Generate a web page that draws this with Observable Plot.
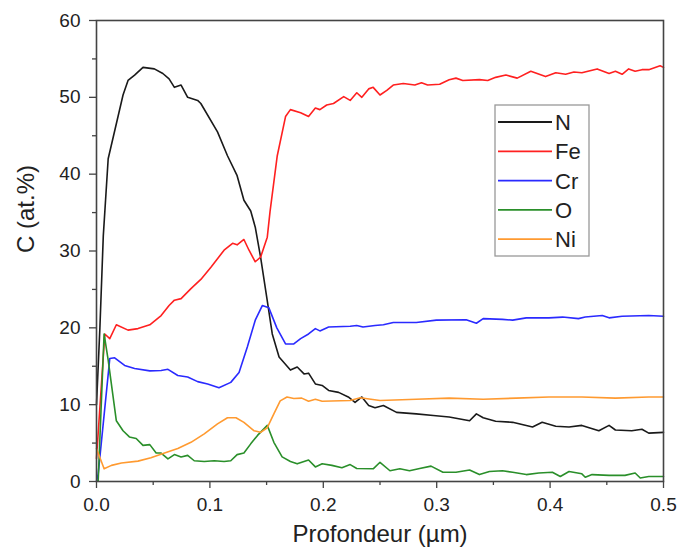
<!DOCTYPE html>
<html>
<head>
<meta charset="utf-8">
<script src="https://cdn.jsdelivr.net/npm/d3@7"></script>
<script src="https://cdn.jsdelivr.net/npm/@observablehq/plot@0.6"></script>
<style>
  body { margin: 0; background: #fff; }
  #chart { position: relative; width: 681px; height: 553px; }
</style>
</head>
<body>
<div id="chart"></div>
<script>
// Depth (µm) and concentration (at.%) per element
const seriesNames = ["N", "Fe", "Cr", "O", "Ni"];
const seriesColors = ["#1a1a1a", "#ff2020", "#2a2aff", "#2a8f2a", "#ff9a30"];

const N = [[0,10],[0.003,20],[0.006,32],[0.0103,42],[0.0234,50.3],[0.0278,52.2],[0.0336,52.9],[0.041,53.9],[0.051,53.7],[0.0585,53.1],[0.064,52.4],[0.0687,51.3],[0.0746,51.6],[0.0804,50.0],[0.0892,49.6],[0.092,49.2],[0.1067,45.5],[0.1155,42.4],[0.124,39.8],[0.130,36.6],[0.136,35.2],[0.140,33.1],[0.1447,29.2],[0.1506,23.5],[0.155,19.2],[0.161,16.2],[0.171,14.5],[0.177,14.9],[0.183,14.0],[0.187,14.1],[0.193,12.7],[0.199,12.5],[0.2047,11.85],[0.2135,11.6],[0.222,11.0],[0.228,10.3],[0.234,11.0],[0.240,9.9],[0.2456,9.6],[0.253,9.9],[0.2646,9.0],[0.282,8.8],[0.297,8.6],[0.311,8.4],[0.329,7.9],[0.335,8.8],[0.341,8.3],[0.352,7.85],[0.367,7.7],[0.3845,7.1],[0.393,7.7],[0.405,7.2],[0.4167,7.1],[0.428,7.3],[0.443,6.6],[0.452,7.3],[0.4576,6.7],[0.472,6.6],[0.481,6.8],[0.487,6.3],[0.5,6.4]];

const Fe = [[0,3],[0.0073,19.2],[0.0117,18.6],[0.0175,20.4],[0.0278,19.7],[0.0366,19.9],[0.047,20.4],[0.057,21.6],[0.064,22.9],[0.0687,23.6],[0.0746,23.8],[0.0833,25.1],[0.092,26.3],[0.1009,27.9],[0.1125,30.1],[0.12,31.0],[0.124,30.8],[0.130,31.5],[0.1345,30.1],[0.140,28.6],[0.1447,29.2],[0.1506,31.8],[0.153,35.1],[0.1594,42.4],[0.1667,47.5],[0.171,48.4],[0.18,48.0],[0.187,47.5],[0.193,48.6],[0.197,48.4],[0.203,49.0],[0.209,49.2],[0.218,50.1],[0.2237,49.6],[0.2295,50.6],[0.234,50.0],[0.240,51.1],[0.244,51.3],[0.25,50.3],[0.256,50.9],[0.2617,51.6],[0.2705,51.8],[0.2807,51.6],[0.2866,51.9],[0.292,51.6],[0.3026,51.7],[0.311,52.3],[0.317,52.5],[0.323,52.2],[0.3377,52.3],[0.345,52.2],[0.352,52.6],[0.361,52.9],[0.371,52.5],[0.383,53.4],[0.396,52.7],[0.405,53.2],[0.4137,53.0],[0.421,53.3],[0.428,53.2],[0.4415,53.7],[0.452,53.1],[0.4576,53.4],[0.4635,53.0],[0.4693,53.7],[0.475,53.4],[0.481,53.6],[0.487,53.6],[0.497,54.1],[0.5,53.9]];

const Cr = [[0,0],[0.0015,1.0],[0.0117,16.0],[0.016,16.1],[0.0248,15.1],[0.0336,14.7],[0.047,14.4],[0.057,14.45],[0.063,14.6],[0.0717,13.8],[0.0804,13.6],[0.0892,13.0],[0.098,12.7],[0.108,12.2],[0.1184,12.9],[0.1257,14.2],[0.133,17.5],[0.140,21.0],[0.1462,22.9],[0.152,22.6],[0.159,20.0],[0.1667,17.9],[0.174,17.9],[0.18,18.6],[0.187,19.2],[0.193,19.9],[0.197,19.6],[0.2047,20.1],[0.2237,20.2],[0.2295,20.3],[0.235,20.1],[0.2456,20.3],[0.253,20.4],[0.2617,20.7],[0.282,20.7],[0.2997,21.0],[0.326,21.05],[0.335,20.6],[0.341,21.2],[0.358,21.1],[0.367,21.0],[0.379,21.3],[0.399,21.3],[0.411,21.4],[0.425,21.2],[0.431,21.4],[0.446,21.6],[0.452,21.3],[0.4635,21.5],[0.487,21.6],[0.5,21.5]];

const O = [[0,0],[0.0015,0.1],[0.0067,19.2],[0.0103,15.8],[0.0175,7.9],[0.0234,6.6],[0.029,5.8],[0.035,5.6],[0.041,4.7],[0.047,4.8],[0.0526,3.7],[0.057,3.7],[0.063,2.95],[0.0687,3.5],[0.0746,3.2],[0.0804,3.4],[0.0862,2.7],[0.095,2.6],[0.1038,2.7],[0.1125,2.6],[0.1184,2.7],[0.124,3.5],[0.130,3.7],[0.136,4.9],[0.142,6.0],[0.1506,7.3],[0.1564,5.1],[0.1637,3.2],[0.171,2.6],[0.177,2.3],[0.187,2.8],[0.193,1.9],[0.199,2.3],[0.2076,2.1],[0.2164,1.8],[0.2237,2.2],[0.2295,1.7],[0.244,1.65],[0.25,2.5],[0.2588,1.4],[0.2675,1.65],[0.276,1.4],[0.285,1.7],[0.295,2.0],[0.3055,1.2],[0.317,1.2],[0.329,1.5],[0.3377,0.9],[0.3465,1.3],[0.358,1.4],[0.367,1.2],[0.379,0.9],[0.39,1.1],[0.402,1.2],[0.409,0.65],[0.4167,1.3],[0.428,1.0],[0.431,0.56],[0.437,0.9],[0.452,0.8],[0.466,0.8],[0.475,1.1],[0.4795,0.45],[0.487,0.65],[0.5,0.65]];

const Ni = [[0,4.3],[0.0067,1.65],[0.0132,2.1],[0.022,2.4],[0.0366,2.65],[0.048,3.1],[0.06,3.7],[0.0717,4.3],[0.0833,5.1],[0.095,6.2],[0.1067,7.5],[0.1155,8.3],[0.123,8.3],[0.130,7.7],[0.139,6.6],[0.1447,6.4],[0.1506,7.0],[0.1564,8.8],[0.162,10.5],[0.168,11.0],[0.174,10.8],[0.181,10.85],[0.187,10.45],[0.193,10.7],[0.199,10.45],[0.2237,10.55],[0.2325,10.9],[0.25,10.55],[0.282,10.7],[0.311,10.85],[0.341,10.7],[0.37,10.85],[0.399,11.0],[0.428,11.0],[0.4576,10.85],[0.487,11.0],[0.5,11.0]];

const xMajor = [0, 0.1, 0.2, 0.3, 0.4, 0.5];
const xMinor = [0.05, 0.15, 0.25, 0.35, 0.45];
const yMajor = [0, 10, 20, 30, 40, 50, 60];
const yMinor = [5, 15, 25, 35, 45, 55];

const allSeries = [N, Fe, Cr, O, Ni];
const rows = allSeries.flatMap((s, i) => s.map(([x, y]) => ({x, y, el: seriesNames[i]})));

const font = "'Liberation Sans', Arial, sans-serif";

const chart = Plot.plot({
  width: 681,
  height: 553,
  marginLeft: 96,
  marginRight: 18,
  marginTop: 20,
  marginBottom: 72,
  style: {fontFamily: font, background: "#fff", color: "#222"},
  x: {domain: [0, 0.5]},
  y: {domain: [0, 60]},
  color: {domain: seriesNames, range: seriesColors},
  marks: [
    Plot.lineY(rows, {x: "x", y: "y", z: "el", stroke: "el", strokeWidth: 1.6}),
    Plot.frame({stroke: "#444", strokeWidth: 1.6}),
    Plot.axisX({ticks: xMajor, tickSize: 7, tickPadding: 9, tickFormat: d3.format(".1f"), fontSize: 19, label: null, stroke: "#444", strokeWidth: 1.3}),
    Plot.axisX({ticks: xMinor, tickSize: 4, tickFormat: null, text: null, label: null, stroke: "#444", strokeWidth: 1.3}),
    Plot.axisY({ticks: yMajor, tickSize: 7, tickPadding: 9, tickFormat: d3.format("d"), fontSize: 19, label: null, stroke: "#444", strokeWidth: 1.3}),
    Plot.axisY({ticks: yMinor, tickSize: 4, tickFormat: null, text: null, label: null, stroke: "#444", strokeWidth: 1.3}),
    Plot.text(["Profondeur (µm)"], {frameAnchor: "bottom", dy: 60, fontSize: 24, fill: "#222"}),
    Plot.text(["C (at.%)"], {frameAnchor: "left", dx: -70, dy: 2, rotate: -90, fontSize: 24, fill: "#222"})
  ]
});

document.getElementById("chart").appendChild(chart);

// Legend box inside the plot
const svg = d3.select(chart);
const lg = svg.append("g").attr("transform", "translate(495,105)");
lg.append("rect").attr("x", 0).attr("y", 0).attr("width", 94).attr("height", 151)
  .attr("fill", "#fff").attr("stroke", "#999").attr("stroke-width", 1.3);
seriesNames.forEach((name, i) => {
  const yy = 17 + i * 29.3;
  lg.append("line").attr("x1", 3).attr("x2", 57).attr("y1", yy).attr("y2", yy)
    .attr("stroke", seriesColors[i]).attr("stroke-width", 1.8);
  lg.append("text").attr("x", 60).attr("y", yy).attr("dy", "0.36em")
    .attr("text-anchor", "start")
    .attr("font-size", 22).attr("font-family", font).attr("fill", "#222").text(name);
});
</script>
</body>
</html>
